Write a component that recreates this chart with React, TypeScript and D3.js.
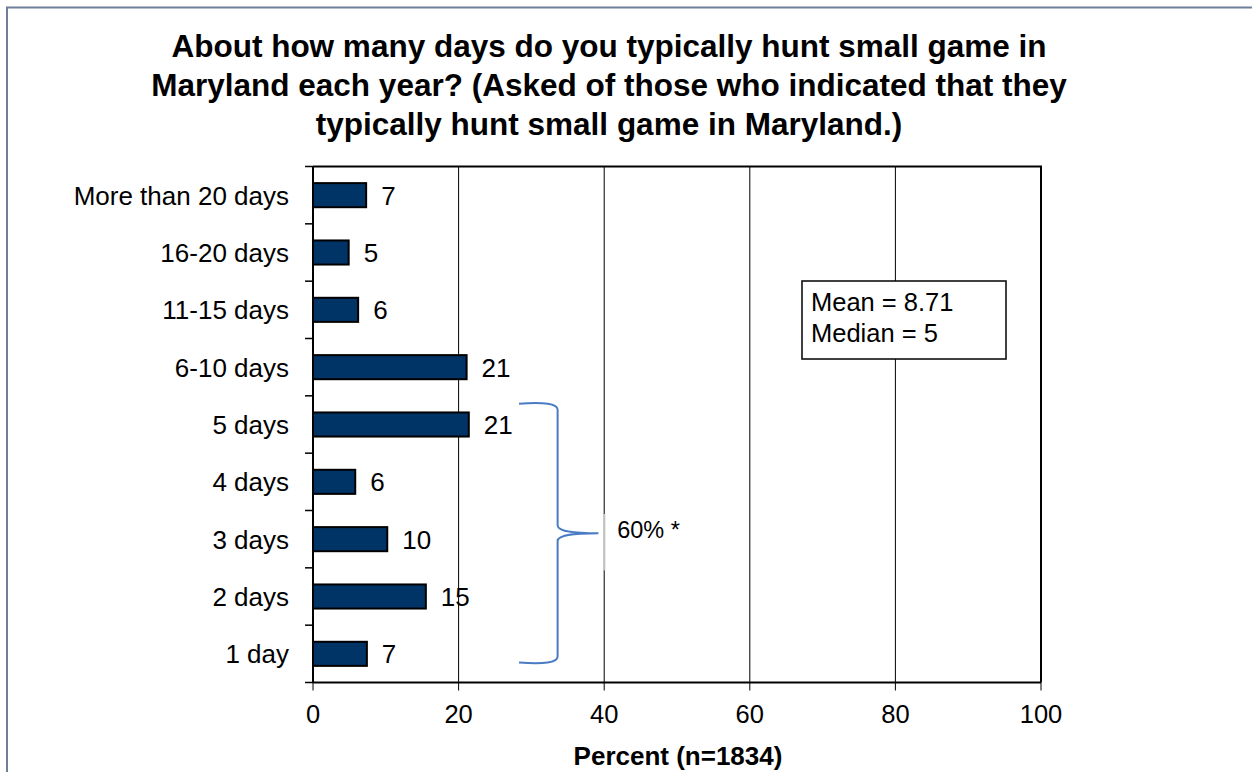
import React from "react";
import * as d3 from "d3";

const categories = [
  "More than 20 days",
  "16-20 days",
  "11-15 days",
  "6-10 days",
  "5 days",
  "4 days",
  "3 days",
  "2 days",
  "1 day",
];
const values = [7.3, 4.9, 6.2, 21.1, 21.4, 5.8, 10.2, 15.5, 7.4];
const valueLabels = ["7", "5", "6", "21", "21", "6", "10", "15", "7"];
const xTicks = [0, 20, 40, 60, 80, 100];
const titleLines = [
  "About how many days do you typically hunt small game in",
  "Maryland each year? (Asked of those who indicated that they",
  "typically hunt small game in Maryland.)",
];
const statsLines = ["Mean = 8.71", "Median = 5"];
const braceLabel = "60% *";
const xAxisTitle = "Percent (n=1834)";

const W = 1252;
const H = 772;
const left = 313;
const right = 1041;
const top = 166.5;
const bottom = 682.5;
const FONT = "'Liberation Sans', Arial, sans-serif";

export default function App() {
  const x = d3.scaleLinear().domain([0, 100]).range([left, right]);
  const y = d3
    .scaleBand<string>()
    .domain(categories)
    .range([top, bottom])
    .paddingInner(0.58)
    .paddingOuter(0.29);
  const step = y.step();
  const bw = y.bandwidth();
  const bands = d3.scaleBand<string>().domain(categories).range([top, bottom]);

  // brace geometry from scales
  const bx0 = x(28.3);
  const bx1 = x(33.6);
  const bxp = x(39.2);
  const byTop = bands("5 days")! + 8;
  const byBot = bands("1 day")! + step - 20;
  const byMid = byTop + (byBot - byTop) * 0.5;
  const r = 6;
  const bracePath = [
    `M${bx0},${byTop}`,
    `C${bx0 + 25},${byTop - 2} ${bx1},${byTop} ${bx1},${byTop + r}`,
    `L${bx1},${byMid - 8}`,
    `C${bx1},${byMid - 1} ${bxp - 20},${byMid} ${bxp},${byMid}`,
    `C${bxp - 20},${byMid} ${bx1},${byMid + 1} ${bx1},${byMid + 8}`,
    `L${bx1},${byBot - r}`,
    `C${bx1},${byBot} ${bx0 + 25},${byBot + 2} ${bx0},${byBot}`,
  ].join(" ");

  return (
    <svg
      width={W}
      height={H}
      style={{ position: "absolute", left: 0, top: 0, background: "#fff" }}
      fontFamily={FONT}
    >
      <rect x={0} y={0} width={W} height={H} fill="#fff" />
      {/* outer frame */}
      <path d={`M7,${H + 5} L7,7.5 L${W + 5},7.5`} fill="none" stroke="#6f7f99" strokeWidth={2} />

      {/* title */}
      {titleLines.map((t, i) => (
        <text
          key={i}
          x={609}
          y={57 + i * 39}
          textAnchor="middle"
          fontWeight="bold"
          fontSize={31.5}
          fill="#000"
        >
          {t}
        </text>
      ))}

      {/* gridlines */}
      {xTicks.slice(1, -1).map((t) => (
        <line key={t} x1={x(t)} x2={x(t)} y1={top} y2={bottom} stroke="#000" strokeWidth={1} />
      ))}

      {/* brace label box (covers gridline) */}
      <rect x={x(40) - 0.5} y={byMid - 19} width={60} height={56} fill="#fff" />
      <line x1={x(40) + 0.5} x2={x(40) + 0.5} y1={byMid - 19} y2={byMid + 37} stroke="#bbb" strokeWidth={1.2} />

      {/* bars */}
      {categories.map((c, i) => (
        <g key={c}>
          <rect
            x={x(0)}
            y={y(c)!}
            width={x(values[i]) - x(0)}
            height={bw}
            fill="#003366"
            stroke="#000"
            strokeWidth={2}
          />
          <text
            x={x(values[i]) + 15}
            y={y(c)! + bw / 2}
            dy="0.36em"
            fontSize={26}
            fill="#000"
          >
            {valueLabels[i]}
          </text>
          <text
            x={289}
            y={y(c)! + bw / 2}
            dy="0.36em"
            textAnchor="end"
            fontSize={26}
            fill="#000"
          >
            {c}
          </text>
        </g>
      ))}

      {/* plot border top/right */}
      <path d={`M${left},${top} L${right},${top} L${right},${bottom}`} fill="none" stroke="#000" strokeWidth={2} />
      {/* y axis */}
      <line x1={left} x2={left} y1={top} y2={bottom} stroke="#000" strokeWidth={2} />
      {d3.range(categories.length + 1).map((i) => (
        <line key={i} x1={left - 8} x2={left} y1={top + i * step} y2={top + i * step} stroke="#000" strokeWidth={1.5} />
      ))}
      {/* x axis */}
      <line x1={left} x2={right} y1={bottom} y2={bottom} stroke="#000" strokeWidth={2} />
      {xTicks.map((t) => (
        <g key={t}>
          <line x1={x(t)} x2={x(t)} y1={bottom} y2={bottom + 8} stroke="#000" strokeWidth={1} />
          <text x={x(t)} y={723} textAnchor="middle" fontSize={25.5} fill="#000">
            {t}
          </text>
        </g>
      ))}
      <text x={678} y={765} textAnchor="middle" fontWeight="bold" fontSize={26} fill="#000">
        {xAxisTitle}
      </text>

      {/* stats box */}
      <rect x={802} y={281} width={204} height={78} fill="#fff" stroke="#000" strokeWidth={1.5} />
      {statsLines.map((s, i) => (
        <text key={i} x={811} y={311 + i * 31} fontSize={25.5} fill="#000">
          {s}
        </text>
      ))}

      {/* brace */}
      <path d={bracePath} fill="none" stroke="#4a7cc4" strokeWidth={2} />
      <text x={x(40) + 13} y={538} fontSize={23.5} fill="#000">
        {braceLabel}
      </text>
    </svg>
  );
}
